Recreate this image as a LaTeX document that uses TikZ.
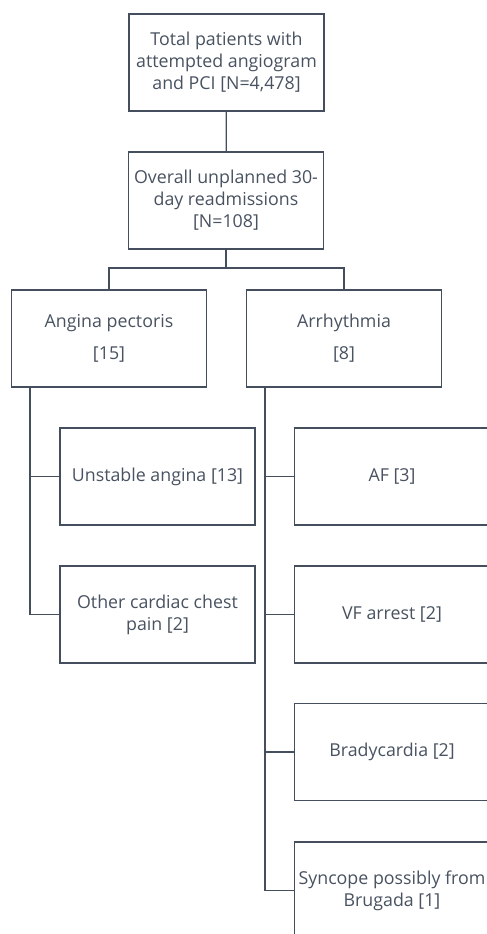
\documentclass[tikz,border=0pt]{standalone}
\usepackage{fontspec}
\setmainfont{Open Sans}
\definecolor{lc}{RGB}{68,78,92}
\definecolor{tc}{RGB}{72,82,96}
\begin{document}
\begin{tikzpicture}[x=1pt,y=-1pt,
 box/.style={draw=lc, line width=1.3pt, minimum width=195pt, minimum height=97pt, inner sep=0pt, text=tc, align=center, font=\fontsize{17.8}{22}\selectfont},
 conn/.style={draw=lc, line width=1.3pt}]
\useasboundingbox (0,0) rectangle (487,934);
\node[box] (total) at (226.5,62.5) {Total patients with\\attempted angiogram\\and PCI [N=4,478]};
\node[box] (overall) at (226,200.5) {Overall unplanned 30-\\day readmissions\\{}[N=108]};
\node[box] (angina) at (109,338.5) {Angina pectoris\\[10pt][15]};
\node[box] (arr) at (344,338.5) {Arrhythmia\\[10pt][8]};
\node[box] (unst) at (157.5,476.5) {Unstable angina [13]};
\node[box] (other) at (157.5,614.5) {Other cardiac chest\\pain [2]};
\node[box] (af) at (392,476.5) {AF [3]};
\node[box] (vf) at (392,614.5) {VF arrest [2]};
\node[box] (brady) at (392,752) {Bradycardia [2]};
\node[box] (sync) at (392,890.5) {Syncope possibly from\\Brugada [1]};
\draw[conn] (total) -- (overall);
\coordinate (j) at (226,268);
\draw[conn] (overall) -- (j);
\draw[conn] (angina.north) |- (j) -| (arr.north);
\draw[conn] ([xshift=19pt]angina.south west) |- (unst.west);
\draw[conn] ([xshift=19pt]angina.south west) |- (other.west);
\draw[conn] ([xshift=19pt]arr.south west) |- (af.west);
\draw[conn] ([xshift=19pt]arr.south west) |- (vf.west);
\draw[conn] ([xshift=19pt]arr.south west) |- (brady.west);
\draw[conn] ([xshift=19pt]arr.south west) |- (sync.west);
\end{tikzpicture}
\end{document}
